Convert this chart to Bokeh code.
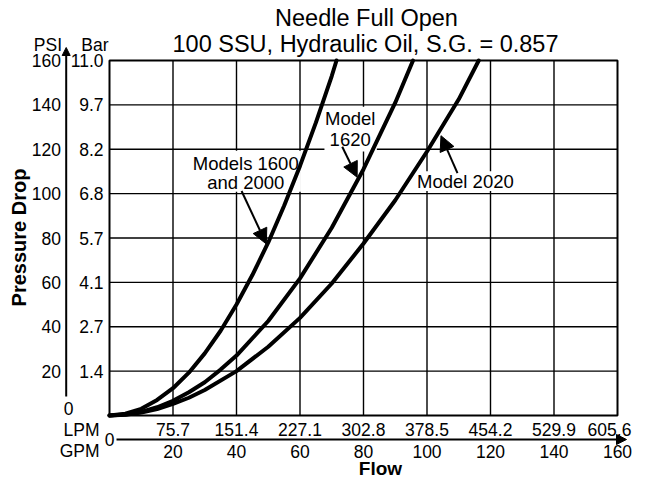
from math import pi
from bokeh.plotting import figure
from bokeh.models import Range1d, Arrow, NormalHead
from bokeh.core.properties import value
from bokeh.embed import file_html
from bokeh.resources import INLINE

# ---------------- data ----------------
gpm_ticks = [20, 40, 60, 80, 100, 120, 140, 160]
gpm_labels = ["20", "40", "60", "80", "100", "120", "140", "160"]
lpm_labels = ["75.7", "151.4", "227.1", "302.8", "378.5", "454.2", "529.9", "605.6"]
psi_ticks = [20, 40, 60, 80, 100, 120, 140, 160]
psi_labels = ["20", "40", "60", "80", "100", "120", "140", "160"]
bar_labels = ["1.4", "2.7", "4.1", "5.7", "6.8", "8.2", "9.7", "11.0"]

m1600_gpm = [0, 5, 10, 15, 20, 25, 30, 35, 40, 45, 50, 55, 60, 65, 70, 71.5]
m1600_psi = [0, 0.8, 3, 7, 12.3, 19.3, 28, 38.2, 50, 63.3, 78, 94.5, 112.5, 132, 153, 160]

m1620_gpm = [0, 5, 10, 15, 20, 25, 30, 35, 40, 50, 60, 70, 80, 90, 95.6]
m1620_psi = [0, 0.4, 1.6, 3.7, 6.6, 10.5, 15, 20.7, 27, 42.6, 61.8, 84.6, 111, 141, 160]

m2020_gpm = [0, 5, 10, 15, 20, 25, 30, 40, 50, 60, 70, 80, 90, 100, 110, 116.3]
m2020_psi = [0, 0.35, 1.3, 2.9, 5.2, 8, 11.5, 20, 31, 44, 59.5, 77.5, 97, 119, 142.5, 160]

title1 = "Needle Full Open"
title2 = "100 SSU, Hydraulic Oil, S.G. = 0.857"

# ---------------- layout (pixels) ----------------
W, H = 634, 478
L, R, T, B = 109, 617, 60, 415
XMAX, YMAX = 160, 160
sx = (R - L) / XMAX
sy = (B - T) / YMAX


def X(px):
    return (px - L) / sx


def Y(py):
    return (B - py) / sy


FONT = value("Liberation Sans")
TICK = "17.5px"

p = figure(width=W, height=H, output_backend="svg", toolbar_location=None,
           x_range=Range1d(X(0), X(W)), y_range=Range1d(Y(H), Y(0)),
           x_axis_location=None, y_axis_location=None, min_border=0,
           outline_line_color=None, background_fill_color="white",
           border_fill_color="white")
p.grid.visible = False

# grid lines
inner_x = gpm_ticks[:-1]
inner_y = psi_ticks[:-1]
p.segment(x0=inner_x, y0=[0] * len(inner_x), x1=inner_x, y1=[YMAX] * len(inner_x),
          line_color="black", line_width=1.4)
p.segment(x0=[0] * len(inner_y), y0=inner_y, x1=[XMAX] * len(inner_y), y1=inner_y,
          line_color="black", line_width=1.4)
p.quad(left=[0], right=[XMAX], bottom=[0], top=[YMAX], fill_color=None,
       line_color="black", line_width=2)

# white boxes behind the callouts
p.quad(left=[26.1, 67.7, 96.6], right=[60.3, 84.2, 127.7],
       bottom=[100.8, 119.0, 101.2], top=[119.3, 139.2, 110.1],
       fill_color="white", line_color=None)

# curves
for gx, gy in [(m1600_gpm, m1600_psi), (m1620_gpm, m1620_psi), (m2020_gpm, m2020_psi)]:
    p.line(gx, gy, line_color="black", line_width=4, line_join="round", line_cap="round")

# callout texts
p.text(x=[42.9, 42.9, 75.8, 75.8, 112.1], y=[113.6, 104.8, 133.9, 124.6, 105.6],
       text=["Models 1600", "and 2000", "Model", "1620", "Model 2020"],
       text_font=FONT, text_font_size="18.5px", text_align="center",
       text_baseline="middle", text_color="black")

# callout arrows
for xs, ys, xe, ye in [(41.6, 101.2, 49.4, 77.3), (73.3, 121.1, 78.0, 107.4),
                       (109.6, 109.2, 104.4, 126.1)]:
    p.add_layout(Arrow(x_start=xs, y_start=ys, x_end=xe, y_end=ye, line_width=2,
                       end=NormalHead(size=15, fill_color="black", line_color="black")))

# titles
p.text(x=[X(366), X(365)], y=[Y(17), Y(43)], text=[title1, title2],
       text_font=FONT, text_font_size="23.5px", text_align="center",
       text_baseline="middle", text_color="black")

# left axis labels
p.text(x=[X(60.5)] * len(psi_ticks), y=psi_ticks, text=psi_labels, text_font=FONT,
       text_font_size=TICK, text_align="right", text_baseline="middle")
p.text(x=[X(103)] * len(psi_ticks), y=psi_ticks, text=bar_labels, text_font=FONT,
       text_font_size=TICK, text_align="right", text_baseline="middle")
p.text(x=[X(68)], y=[Y(408)], text=["0"], text_font=FONT, text_font_size=TICK,
       text_align="center", text_baseline="middle")
p.text(x=[X(61.5), X(108)], y=[Y(44), Y(44)], text=["PSI", "Bar"], text_font=FONT,
       text_font_size=TICK, text_align="right", text_baseline="middle")
p.add_layout(Arrow(x_start=X(65.7), y_start=Y(396), x_end=X(65.7), y_end=Y(47),
                   line_width=2, end=NormalHead(size=8, fill_color="black", line_color="black")))
p.text(x=[X(18)], y=[Y(237)], text=["Pressure Drop"], angle=pi / 2, text_font=FONT,
       text_font_size="20px", text_font_style="bold", text_align="center",
       text_baseline="middle")

# bottom axis labels
lpm_shift = [0, 0, 0, 0, 0, 0, 0, -8]
p.text(x=gpm_ticks, y=[Y(429)] * len(gpm_ticks), text=lpm_labels, x_offset=lpm_shift,
       text_font=FONT, text_font_size=TICK, text_align="center", text_baseline="middle")
p.text(x=gpm_ticks, y=[Y(451)] * len(gpm_ticks), text=gpm_labels, text_font=FONT,
       text_font_size=TICK, text_align="center", text_baseline="middle")
p.text(x=[X(99), X(99)], y=[Y(429), Y(450)], text=["LPM", "GPM"], text_font=FONT,
       text_font_size=TICK, text_align="right", text_baseline="middle")
p.text(x=[X(109)], y=[Y(439)], text=["0"], text_font=FONT, text_font_size=TICK,
       text_align="center", text_baseline="middle")
p.add_layout(Arrow(x_start=X(116), y_start=Y(439), x_end=X(626), y_end=Y(439),
                   line_width=2, end=NormalHead(size=10, fill_color="black", line_color="black")))
p.text(x=[X(380)], y=[Y(467.5)], text=["Flow"], text_font=FONT, text_font_size="19px",
       text_font_style="bold", text_align="center", text_baseline="middle")

open("out.html", "w").write(file_html(p, INLINE))
